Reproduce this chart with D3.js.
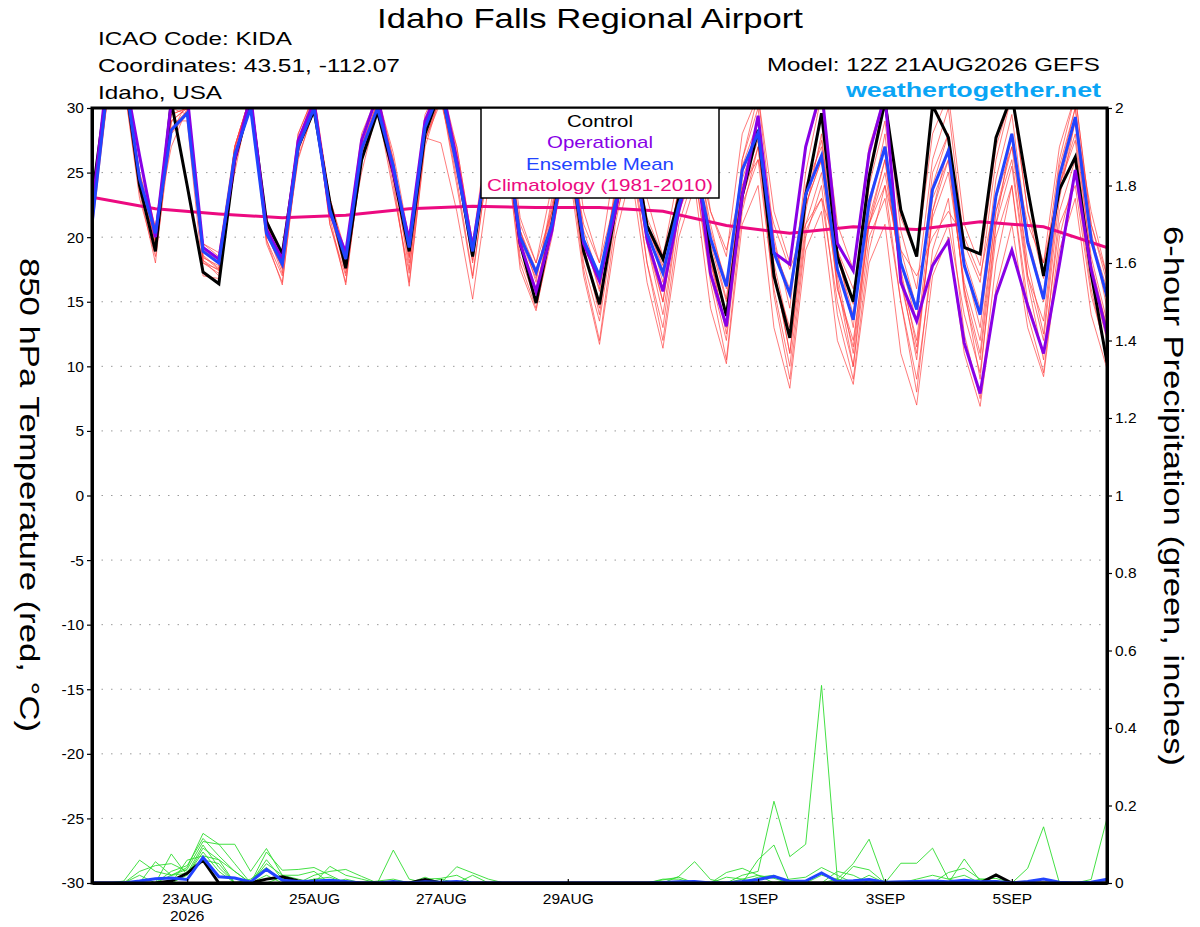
<!DOCTYPE html>
<html>
<head>
<meta charset="utf-8">
<script src="https://cdn.jsdelivr.net/npm/d3@7"></script>
<style>
  body { margin: 0; background: #fff; }
  text { font-family: "Liberation Sans", Arial, sans-serif; }
</style>
</head>
<body>
<div id="chart"></div>
<script>
// ---- data (6-hourly, 12Z 21AUG2026 -> 12Z 06SEP2026) ----
const startTime = Date.UTC(2026, 7, 21, 12);
const stepHours = 6;

// ensemble mean, control and operational 850 hPa temperature (C)
const meanTemp = [21,32,33,24.5,20.3,28.3,29.6,18.9,18.0,26.4,30,20.3,17.9,
  27,30,22.1,18.3,26.8,30,25.5,19.2,28.5,31.5,25.5,18.9,
  27,28.5,20,17.3,21,27,19.8,17.0,22.7,27,20.3,17.2,
  22.5,26,19.9,16.2,25.2,28.1,18.8,15.6,23.3,26.3,17.5,13.6,
  22.7,27,18.0,14.4,23.7,26.7,17.8,14.0,23.2,28,19.6,15.2,24.7,29.3,19.8,15.4];
const controlTemp = [23,32,33,24,18.9,30.5,24,17.3,16.4,26,30.5,21.2,18.7,
  27,29.8,22.7,17.6,26,29.7,25,18.9,28,31.5,25.8,18.5,
  27,29,19.5,14.9,21,28,18.9,14.8,22.1,28,20.9,18.3,
  23,26.5,18.8,13.9,23.2,28.3,17,12.2,23.2,29.6,18.5,15.0,
  24.7,30.5,22.1,18.5,30.2,27.7,19.2,18.7,27.7,31,23.7,17,23.7,26.2,17.2,10.3];
const operTemp = [22,33,33,26.3,20,30.5,31,19.2,18.3,26,31,20.6,18.3,
  27.5,30.5,21.9,18.8,27.5,31,25,19.8,29,32,26,19.2,
  27,29,19.5,15.8,20.5,28,19.5,16.6,22,28,19.8,15.8,
  22,27,17.2,13.1,23.2,29.4,18.8,17.9,27,31.5,19.5,17.4,
  26.5,31,16.5,13.5,17.8,19.7,11.8,7.9,15.5,19.0,14.7,11.0,17.9,25.2,17.5,12.5];

// individual members (red)
const member1 = [22.5,32,33,25,19.5,31,30.5,18,17.2,27,31,21.5,18.2,
  28,31,22.5,17.8,27,31,26,18.5,29,32,26,18.2,
  28,30,20.5,16.5,23,30,20,15.8,24,30,21,16.5,
  24,29,20,15.2,26,31,20,14.5,25,31,19,14.8,
  25,31,20.5,16,26,30,19.5,16.5,26,31,22,16.8,26,31,21,16.5];
const member2 = [21.5,31,32,23.5,18,29,29,17,16.8,25.5,30.5,19.5,16.5,
  26.5,30.5,21,16.5,26,30.5,24,16.5,27,31,24.5,17,
  26,28,18,14.5,20,27,17.5,12,21,27,18,12,
  21,25,16.5,10.5,22,27,15.5,9,20,24,14,9,
  19,24,15,8,19,23,12.5,7.5,18,24,14,9.5,20,25,16,10.5];
const member3 = [22,32,33,26,20.7,27,30,19.5,18.5,25,31,21,17.5,
  26,30,23,18.5,25,30,25.5,19.5,27.5,31,27,19.5,
  26,29,21,18,22,28,21,18,23,28,21.5,18.5,
  23,27,22,19,24,26,21,17.5,21,23,19,16,
  21,24,19,17,20,22,20,17,23,27,21,18,24,29,22,17];
const member4 = [21,32,33,24,19.8,29,30,18.5,17.5,27,31,20.5,17.2,
  27.5,31,22,17.2,27.5,31,25,18,28.5,32,26.5,18.8,
  27.5,30,19.5,15.5,22,29,19,14.5,22.5,29,20,15,
  23,28,18,13,26,30,17.5,11,22,28,16,11.5,
  22,28,16.5,11,22,27,15.5,10.5,21,28,17,12,23,29,18,13];
const member5 = [20.5,31,33,24.5,20.5,28,29.5,19,18.2,26,30.5,20,18.3,
  26.8,30,22,18.5,26.5,30,25.2,20,28,31,25,19,
  27,28.5,20.5,17.5,21,26,19.5,16.5,23.5,27,21,17.5,
  22,26,20.5,16.5,25,28,19,16,24,27,18.5,14,
  23,27,18,13.5,25,28,18,13,23,28,19.5,15,25,30,20.5,14.5];
const member6 = [21.5,32,33,24,19,29.5,30,18.2,17,26.5,30.5,19.8,16.3,
  27,30.5,21.5,16.3,26,30,24.5,16.2,27.5,31,24,16.8,
  26,28,17.5,14.3,20.5,26,17,11.7,20,25,16.5,11.4,
  20,24,14.5,10.2,21,24,13,8.3,19,22,12,8.6,
  18,21,11,7,17,20,11,6.9,16,21,13,9.2,19,23,14,9.8];
const member7 = [21,32,33,25,20.8,30,30.5,19.5,18.8,27,31,21,18.5,
  28,31,23,18.8,28,31,26.5,19.8,29.5,32,27,19.5,
  28.5,31,21.5,18,24,31,22,18,26,31,23,18.5,
  25,30,22,18.5,28,31,22,18,27,31,21,17.5,
  27,31,21.5,18.5,28,31,21,17.8,27,31,22,18,27,31,21,17];
const member8 = [21,31.5,33,23.8,19.2,28.5,29.8,18.6,17.6,26.2,30.2,20.2,17.6,
  26.2,29.8,21.8,17.5,26.5,29.9,25,17.5,27.5,30.5,25.5,18,
  27,28,19.5,16,21.5,27.5,19,15,22,27,19.5,14,
  22,26,18,14,24.5,28,17,13,22.5,26,16,12,
  21,26,17,12,23,26,16,11,22,27,18,12.5,24,28,18.5,13.5];
const member9 = [22,32,33,24.5,20,29,30,18.4,17.8,26.8,30.8,20.8,18,
  27.2,30.5,22.8,18,27,30.5,25.8,19,28.8,31.5,26.2,19.2,
  27.5,29,20.5,17,22,28.5,20.5,16.8,23,28,20.8,17.8,
  23.5,27.5,21,16,25.5,29,19.5,15.5,23,27.5,19,13,
  24,29,19,14.5,24,28,18.5,14.5,24.5,29.5,20,15.5,25.5,30,20,16];
const member10 = [21.2,31,32,23,18.5,28,30.5,18,17.5,26,30.5,19.8,17,
  27.5,30.5,21,17,26,30,23.5,17.2,27.7,27.3,22,15.2,
  24,29,18.5,15,21,27,18,13.5,21.5,26,18,13,
  22,25,17,12,22.5,26,16,10,20.5,23,15,10,
  20,23,15,9,18,21,14,9.5,20,24,15,11,21,24,15.5,11];
const member11 = [21.8,32,33,24.8,20.2,29.5,30,19,18,27,31,21,18.2,
  27.6,30.5,22.6,18.2,27.5,31,26,19,28.5,31.5,26,18.5,
  27.5,29.5,19.8,16.8,22.5,28,20,16,23.5,28.5,20,16,
  24,27,19.5,15,24,27.5,18,12.5,22.5,26,17,11,
  21,25,17.5,11.5,21.5,25,16.5,12,22,26,17,13.5,24,27.5,17.5,13];
const member12 = [22.2,32,33,24.2,19.6,30,29.5,18.2,17.4,26.5,30.5,20.5,17.8,
  27,30,22.3,17.8,27,30.5,25.5,18.4,28.5,31.5,25.8,18.6,
  27,29,19.2,15.8,21.5,27.5,19.4,14,22.5,27,19.5,15,
  22.5,26.5,18.5,12.5,23,27,17.5,11,21,25,16.5,10,
  21.5,26,17,10.5,22,26,16,9,21,25.5,16.5,10.5,22,26,17,12];
const memberTemps = [member1, member2, member3, member4, member5, member6,
  member7, member8, member9, member10, member11, member12];

// climatology, daily values at 12Z
const climoTemp = [23.1,22.2,21.8,21.5,21.7,22.2,22.4,22.3,22.3,22.0,20.9,20.3,20.8,20.6,21.2,20.8,19.2];

// 6-hour precipitation (inches)
const precip1 = [0,0,0,0.02,0,0.02,0.04,0.128,0.10,0.05,0,0.02,0,
  0,0.01,0,0,0,0,0,0,0,0,0,0,0,
  0,0,0,0,0,0,0,0,0,0,0,0,0,
  0,0,0.02,0.03,0.211,0.068,0.10,0.51,0.009,0,0,0,0,
  0,0,0,0,0,0,0,0,0,0,0,0,0];
const precip2 = [0,0,0.005,0.059,0.03,0.02,0.035,0.107,0.1,0.1,0.03,0.089,0.02,
  0.01,0,0.043,0.02,0.01,0,0,0,0,0,0,0,0,
  0,0,0,0,0,0,0,0,0,0,0,0,0,
  0,0,0,0.06,0.098,0,0,0,0.01,0.05,0.113,0,0.051,
  0.051,0.09,0.01,0,0,0,0,0,0,0,0,0,0];
const precip3 = [0,0,0,0,0.055,0.02,0.025,0.098,0.04,0,0,0.08,0.033,
  0.035,0.04,0.02,0,0,0,0.085,0.01,0,0,0,0,0,
  0,0,0,0,0,0,0,0,0,0,0,0.017,0.055,
  0.009,0,0,0,0,0,0,0,0,0,0,0,0,
  0,0,0,0.062,0.005,0,0,0.038,0.145,0,0,0,0];
const precip4 = [0,0,0,0,0,0.075,0.02,0.08,0.03,0,0,0.06,0.01,
  0,0.02,0.03,0.035,0.017,0,0,0,0,0,0.042,0.026,0.01,
  0,0,0,0,0,0,0,0,0,0,0,0,0,
  0,0.027,0.038,0.02,0,0,0,0,0,0.043,0.034,0,0,
  0,0,0,0,0,0,0,0,0,0,0,0.009,0.167];
const precip5 = [0,0,0,0,0,0,0.059,0.07,0.06,0.03,0,0.05,0.02,
  0.02,0.03,0,0,0,0,0,0,0.01,0.012,0.02,0,0,
  0,0,0,0,0,0,0,0,0,0,0.01,0.01,0,
  0,0.015,0.01,0,0,0,0,0,0.03,0.02,0,0,0,
  0,0,0.027,0.038,0.01,0.005,0,0,0,0,0,0,0];
const precip6 = [0,0,0,0.03,0.045,0.05,0.03,0.06,0.05,0,0.01,0.04,0.005,
  0,0,0,0.01,0,0.005,0.01,0,0,0,0,0,0,
  0,0,0,0,0,0,0,0,0,0,0.008,0.015,0,
  0,0,0,0.015,0.02,0,0,0.02,0.01,0,0,0,0,
  0.01,0.02,0.01,0.02,0,0,0,0,0,0,0,0,0];
const precip7 = [0,0,0,0,0,0.03,0.045,0.115,0.07,0.03,0,0,0.015,
  0,0.01,0.015,0,0,0,0,0,0,0.01,0,0.02,0,
  0,0,0,0,0,0,0,0,0,0,0,0,0,
  0,0,0.01,0.02,0.012,0,0,0,0,0,0,0,0,
  0,0,0,0,0.01,0.012,0,0,0,0,0,0,0];
const precip8 = [0,0,0,0,0,0,0.02,0.09,0.06,0,0,0.035,0.01,
  0,0,0,0,0,0,0,0,0.015,0,0,0,0,
  0,0,0,0,0,0,0,0,0,0,0,0,0,
  0,0,0,0,0,0.01,0.015,0.04,0.02,0,0.02,0,0,
  0,0,0,0,0,0,0,0,0,0,0,0,0];
const memberPrecips = [precip1, precip2, precip3, precip4, precip5, precip6, precip7, precip8];

const controlPrecip = [0,0,0,0,0,0.005,0.025,0.059,0,0,0,0.01,0.016,
  0.005,0,0,0,0,0,0,0,0.009,0,0,0,0,
  0,0,0,0,0,0,0,0,0,0,0,0,0,
  0,0,0,0,0,0,0,0,0,0,0,0,0,
  0,0,0,0,0,0.021,0,0,0,0,0,0,0];
const meanPrecip = [0,0,0,0.005,0.011,0.013,0.009,0.066,0.016,0.013,0.003,0.035,0.007,
  0.004,0.005,0.007,0.004,0,0,0.004,0,0.003,0.002,0.004,0,0,
  0,0,0,0,0,0,0,0,0,0,0.001,0.003,0.004,
  0,0,0.004,0.009,0.017,0.004,0.005,0.026,0.004,0.006,0.009,0.002,0.003,
  0.004,0.005,0.003,0.007,0.003,0.004,0,0.004,0.01,0.002,0,0.002,0.01];

// axis ticks
const tempTicks = [-30,-25,-20,-15,-10,-5,0,5,10,15,20,25,30];
const precipTicks = [0,0.2,0.4,0.6,0.8,1,1.2,1.4,1.6,1.8,2];
const dateTicks = ["2026-08-23","2026-08-25","2026-08-27","2026-08-29","2026-09-01","2026-09-03","2026-09-05"];
const dateLabels = ["23AUG","25AUG","27AUG","29AUG","1SEP","3SEP","5SEP"];

// ---- layout ----
const margin = {top: 108, right: 93, bottom: 44, left: 92},
  width = 1200 - margin.left - margin.right,
  height = 927 - margin.top - margin.bottom;

const svg = d3.select("#chart")
  .append("svg")
    .attr("width", 1200)
    .attr("height", 927);

const plot = svg.append("g")
  .attr("transform", `translate(${margin.left},${margin.top})`);

const endTime = d3.utcHour.offset(new Date(startTime), (meanTemp.length - 1) * stepHours);
const x = d3.scaleUtc()
  .domain([new Date(startTime), endTime])
  .range([0, width]);
const yT = d3.scaleLinear().domain([-30, 30]).range([height, 0]);
const yP = d3.scaleLinear().domain([0, 2]).range([height, 0]);

const timeAt = i => d3.utcHour.offset(new Date(startTime), i * stepHours);

// clip lines to the frame
plot.append("clipPath").attr("id", "clip")
  .append("rect").attr("width", width).attr("height", height);

// dotted grid at temperature ticks
plot.append("g")
  .selectAll("line")
  .data(tempTicks.filter(t => t > -30 && t < 30))
  .join("line")
    .attr("x1", 0).attr("x2", width)
    .attr("y1", d => yT(d)).attr("y2", d => yT(d))
    .attr("stroke", "#9a9a9a")
    .attr("stroke-width", 1)
    .attr("stroke-dasharray", "1.5,8");

const tempLine = d3.line().x((d, i) => x(timeAt(i))).y(d => yT(d));
const precipLine = d3.line().x((d, i) => x(timeAt(i))).y(d => yP(d));
const climoLine = d3.line().x((d, i) => x(timeAt(i * 4))).y(d => yT(d));

const lines = plot.append("g").attr("clip-path", "url(#clip)");

// members
lines.append("g")
  .selectAll("path")
  .data(memberTemps)
  .join("path")
    .attr("d", tempLine)
    .attr("fill", "none")
    .attr("stroke", "#ff3b3b")
    .attr("stroke-opacity", 0.75)
    .attr("stroke-width", 0.9);

lines.append("g")
  .selectAll("path")
  .data(memberPrecips)
  .join("path")
    .attr("d", precipLine)
    .attr("fill", "none")
    .attr("stroke", "#2fdc2f")
    .attr("stroke-width", 0.9);

// climatology
lines.append("path")
  .datum(climoTemp)
  .attr("d", climoLine)
  .attr("fill", "none")
  .attr("stroke", "#ec0a80")
  .attr("stroke-width", 3);

// control / operational / mean
const bold = [
  {data: controlTemp, line: tempLine, color: "#000000"},
  {data: controlPrecip, line: precipLine, color: "#000000"},
  {data: operTemp, line: tempLine, color: "#8800e6"},
  {data: meanTemp, line: tempLine, color: "#2244ff"},
  {data: meanPrecip, line: precipLine, color: "#2244ff"}
];
bold.forEach(b => {
  lines.append("path")
    .datum(b.data)
    .attr("d", b.line)
    .attr("fill", "none")
    .attr("stroke", b.color)
    .attr("stroke-width", 3)
    .attr("stroke-linejoin", "miter");
});

// frame
plot.append("rect")
  .attr("width", width).attr("height", height)
  .attr("fill", "none")
  .attr("stroke", "#000")
  .attr("stroke-width", 3);

// axes
const left = plot.append("g")
  .call(d3.axisLeft(yT).tickValues(tempTicks).tickSize(5).tickSizeOuter(0).tickFormat(d => String(d)));
const right = plot.append("g")
  .attr("transform", `translate(${width},0)`)
  .call(d3.axisRight(yP).tickValues(precipTicks).tickSize(5).tickSizeOuter(0).tickFormat(d => String(d)));
const parseDay = d3.utcParse("%Y-%m-%d");
const bottom = plot.append("g")
  .attr("transform", `translate(0,${height})`)
  .call(d3.axisBottom(x).tickValues(dateTicks.map(parseDay)).tickSize(-4).tickSizeOuter(0)
    .tickPadding(10).tickFormat((d, i) => dateLabels[i]));

[left, right, bottom].forEach(a => {
  a.select(".domain").attr("stroke-width", 3);
  a.selectAll(".tick line").attr("stroke-width", 1.2);
  a.selectAll("text")
    .attr("font-family", "Liberation Sans, Arial, sans-serif")
    .attr("font-size", 15.5)
    .attr("fill", "#000");
});

// year under the first date
plot.append("text")
  .attr("x", x(parseDay(dateTicks[0])))
  .attr("y", height + 38)
  .attr("text-anchor", "middle")
  .attr("font-size", 15.5)
  .text("2026");

// the original font is wider than Liberation Sans, so text is stretched to the measured widths
function wideText(sel, str, size, len) {
  return sel.append("text")
    .attr("font-size", size)
    .attr("textLength", len)
    .attr("lengthAdjust", "spacingAndGlyphs")
    .text(str);
}

// legend
const legend = plot.append("g").attr("transform", `translate(${389},0)`);
legend.append("rect")
  .attr("width", 238).attr("height", 90)
  .attr("fill", "#fff")
  .attr("stroke", "#000")
  .attr("stroke-width", 1.5);
const legendItems = [
  {label: "Control", color: "#000000", len: 66},
  {label: "Operational", color: "#8800e6", len: 106},
  {label: "Ensemble Mean", color: "#2244ff", len: 148},
  {label: "Climatology (1981-2010)", color: "#ec0a80", len: 226}
];
legendItems.forEach((d, i) => {
  wideText(legend, d.label, 17, d.len)
    .attr("x", 119 - d.len / 2)
    .attr("y", 19 + i * 21.3)
    .attr("fill", d.color);
});

// titles and header text
wideText(svg, "Idaho Falls Regional Airport", 28, 426)
  .attr("x", 377).attr("y", 28);

const info = [
  {text: "ICAO Code: KIDA", len: 194},
  {text: "Coordinates: 43.51, -112.07", len: 302},
  {text: "Idaho, USA", len: 124}
];
info.forEach((d, i) => {
  wideText(svg, d.text, 19, d.len)
    .attr("x", 98)
    .attr("y", 45 + i * 27);
});

wideText(svg, "Model: 12Z 21AUG2026 GEFS", 19, 333)
  .attr("x", 767).attr("y", 71);

wideText(svg, "weathertogether.net", 21, 255)
  .attr("x", 846).attr("y", 97)
  .attr("font-weight", "bold")
  .attr("fill", "#0aa5f5");

wideText(svg, "850 hPa Temperature (red, °C)", 28, 474)
  .attr("transform", "translate(29,258) rotate(90)")
  .attr("dominant-baseline", "central");

wideText(svg, "6-hour Precipitation (green, inches)", 28, 540)
  .attr("transform", "translate(1173,226) rotate(90)")
  .attr("dominant-baseline", "central");
</script>
</body>
</html>
